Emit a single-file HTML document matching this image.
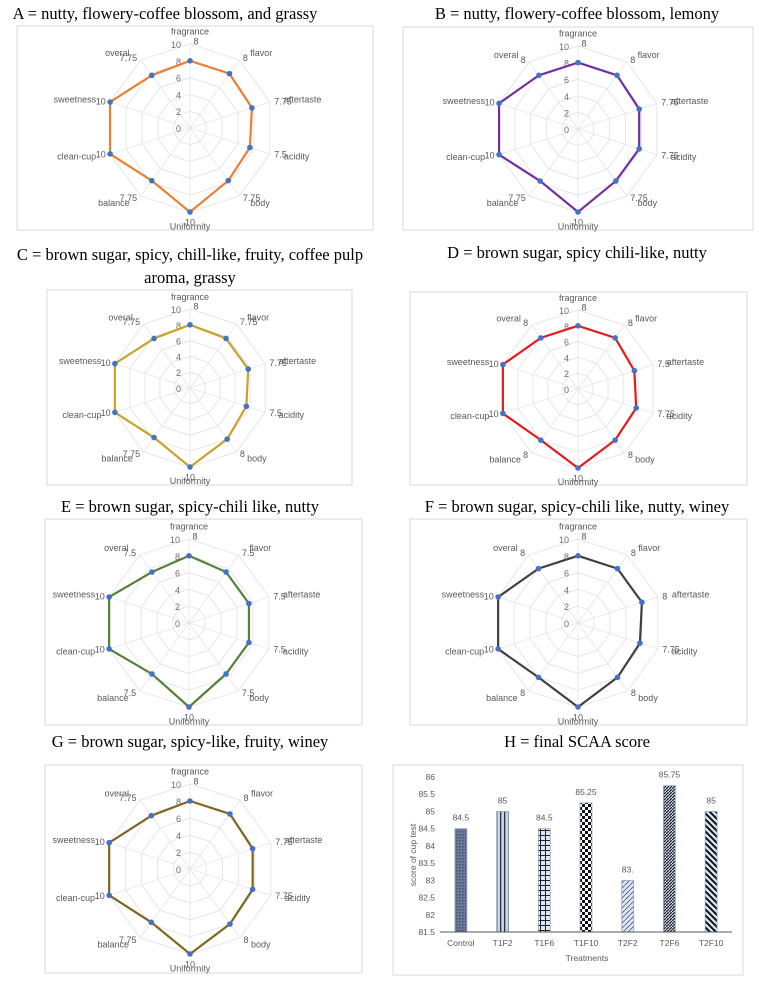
<!DOCTYPE html>
<html><head><meta charset="utf-8">
<style>
html,body{margin:0;padding:0;background:#fff;}
body{width:759px;height:984px;position:relative;overflow:hidden;font-family:"Liberation Serif",serif;}
.t{position:absolute;font-size:16.5px;line-height:20px;color:#000;white-space:nowrap;text-align:center;}
svg{position:absolute;left:0;top:0;}
</style></head>
<body>
<div class="t" style="left:0;width:330px;top:4px;">A = nutty, flowery-coffee blossom, and grassy</div>
<div class="t" style="left:395px;width:364px;top:4px;">B = nutty, flowery-coffee blossom, lemony</div>
<div class="t" style="left:0;width:380px;top:243px;line-height:23px;">C = brown sugar, spicy, chill-like, fruity, coffee pulp<br>aroma, grassy</div>
<div class="t" style="left:395px;width:364px;top:243px;">D = brown sugar, spicy chili-like, nutty</div>
<div class="t" style="left:0;width:380px;top:497px;">E = brown sugar, spicy-chili like, nutty</div>
<div class="t" style="left:395px;width:364px;top:497px;">F = brown sugar, spicy-chili like, nutty, winey</div>
<div class="t" style="left:0;width:380px;top:732px;">G = brown sugar, spicy-like, fruity, winey</div>
<div class="t" style="left:395px;width:364px;top:732px;">H = final SCAA score</div>
<svg id="s" width="759" height="984">
<defs>
<pattern id="p0" width="3" height="3" patternUnits="userSpaceOnUse"><rect width="3" height="3" fill="#6d7a96"/><rect width="1.5" height="1.5" fill="#4a5570"/></pattern>
<pattern id="p1" width="4" height="4" patternUnits="userSpaceOnUse"><rect width="4" height="4" fill="#c8d4ea"/><rect width="1.3" height="4" fill="#333"/></pattern>
<pattern id="p2" width="5" height="5" patternUnits="userSpaceOnUse"><rect width="5" height="5" fill="#dde6f5"/><rect width="1" height="5" fill="#222"/><rect width="5" height="1" fill="#222"/></pattern>
<pattern id="p3" width="6" height="6" patternUnits="userSpaceOnUse"><rect width="6" height="6" fill="#fff"/><rect width="3" height="3" fill="#111"/><rect x="3" y="3" width="3" height="3" fill="#111"/></pattern>
<pattern id="p4" width="5" height="5" patternUnits="userSpaceOnUse"><rect width="5" height="5" fill="#dce6f6"/><path d="M0 5 L5 0" stroke="#556" stroke-width="0.8"/></pattern>
<pattern id="p5" width="3" height="3" patternUnits="userSpaceOnUse"><rect width="3" height="3" fill="#c8d2e8"/><path d="M0 3 L3 0" stroke="#222" stroke-width="1.2"/></pattern>
<pattern id="p6" width="6" height="6" patternUnits="userSpaceOnUse"><rect width="6" height="6" fill="#dde6f5"/><path d="M0 0 L6 6 M-3 3 L3 9 M3 -3 L9 3" stroke="#111" stroke-width="2"/></pattern>
</defs>
</svg>
<script>
const attrs = ["fragrance","flavor","aftertaste","acidity","body","Uniformity","balance","clean-cup","sweetness","overal"];
const valsA = [8,8,7.75,7.5,7.75,10,7.75,10,10,7.75];
const valsB = [8,8,7.75,7.75,7.75,10,7.75,10,10,8];
const valsC = [8,7.75,7.75,7.5,8,10,7.75,10,10,7.75];
const valsD = [8,8,7.5,7.75,8,10,8,10,10,8];
const valsE = [8,7.5,7.5,7.5,7.5,10,7.5,10,10,7.5];
const valsF = [8,8,8,7.75,8,10,8,10,10,8];
const valsG = [8,8,7.75,7.75,8,10,7.75,10,10,7.75];
const ringTicks = [0,2,4,6,8,10];

const barCats = ["Control","T1F2","T1F6","T1F10","T2F2","T2F6","T2F10"];
const barVals = [84.5,85,84.5,85.25,83,85.75,85];
const barLabels = ["84.5","85","84.5","85.25","83.","85.75","85"];
const yTicks = [81.5,82,82.5,83,83.5,84,84.5,85,85.5,86];

const svg = document.getElementById('s');
const NS = "http://www.w3.org/2000/svg";
function mk(tag, a, parent){const e=document.createElementNS(NS,tag);for(const k in a)e.setAttribute(k,a[k]);(parent||svg).appendChild(e);return e;}
function txt(x,y,s,size,anchor,fill,parent){const e=mk('text',{x:x,y:y,'font-size':size,'text-anchor':anchor,fill:fill,'font-family':'Liberation Sans, sans-serif'},parent);e.textContent=s;return e;}

function radar(id, box, cx, cy, R, vals, color){
  const g = mk('g',{});
  
  
  const fr = mk('rect',{x:box[0],y:box[1],width:box[2]-box[0],height:box[3]-box[1],fill:'#fff',stroke:'#d9d9d9','stroke-width':1},g);
  
  
  const n = attrs.length;
  const pt=(i,v)=>{const a=-Math.PI/2+i*2*Math.PI/n;return [cx+Math.cos(a)*R*v/10, cy+Math.sin(a)*R*v/10];};
  ringTicks.forEach(t=>{ if(t===0) return;
    const p=[];for(let i=0;i<n;i++)p.push(pt(i,t).join(','));
    mk('polygon',{points:p.join(' '),fill:'none',stroke:'#e0e0e0','stroke-width':0.8},g);
  });
  for(let i=0;i<n;i++){const p=pt(i,10);mk('line',{x1:cx,y1:cy,x2:p[0],y2:p[1],stroke:'#e6e6e6','stroke-width':0.8},g);}
  ringTicks.forEach(t=>{const tl=txt(cx-9,cy-R*t/10+4,String(t),9,'end','#6b6b6b',g);
    
    });
  const pts=vals.map((v,i)=>pt(i,v).join(','));
  const ln=mk('polygon',{points:pts.join(' '),fill:'none',stroke:color,'stroke-width':2.2},g);
  
  
  vals.forEach((v,i)=>{const p=pt(i,v);const c=mk('circle',{cx:p[0],cy:p[1],r:2.8,fill:'#4472c4'},g);
    
    });
  for(let i=0;i<n;i++){
    const a=-Math.PI/2+i*2*Math.PI/n;const cs=Math.cos(a),sn=Math.sin(a);
    const lx=cx+cs*R*1.1, ly=cy+sn*R*1.1+3;
    const anc=Math.abs(cs)<0.2?'middle':(cs>0?'start':'end');
    const cl=txt(lx+(anc==='start'?6:anc==='end'?-6:0),ly+(i===0?-4:i===5?6:0),attrs[i],9,anc,'#595959',g);
    
    
    const vx=cx+cs*R*1.03, vy=cy+sn*R*1.03+3;
    const vl=txt(vx+(i===0?6:i===5?0:(cs>0?2:-2)),vy+(i===0?0:i===5?8:0),String(vals[i]),9,anc==='middle'?'middle':(cs>0?'start':'end'),'#595959',g);
    
    
  }
}
radar('a',[17,26,373,230],190,128,84,valsA,'#ed7d31');
radar('b',[403,27,753,230],578,129,83,valsB,'#7030a0');
radar('c',[47,290,352,485],190,388,79,valsC,'#c9a227');
radar('d',[410,292,747,485],578,389,79,valsD,'#e41a1c');
radar('e',[45,519,362,725],189,623,84,valsE,'#548235');
radar('f',[410,519,747,725],578,623,84,valsF,'#404040');
radar('g',[45,765,362,973],190,869,85,valsG,'#7f6520');

// bar chart H
const hg = mk('g',{});


const hf=mk('rect',{x:393,y:765,width:350,height:210,fill:'#fff',stroke:'#d9d9d9','stroke-width':1},hg);


const x0=440,x1=732,yTop=777,yBot=932,ymin=81.5,ymax=86;
const yS=v=>yBot-(v-ymin)/(ymax-ymin)*(yBot-yTop);
const step=(x1-x0)/barCats.length;
const xS=i=>x0+step*(i+0.5);
yTicks.forEach(t=>{const e=txt(435,yS(t)+3,String(t),8.5,'end','#595959',hg);
  
  });
barVals.forEach((v,i)=>{
  const b=mk('rect',{x:xS(i)-6,y:yS(v),width:12,height:yBot-yS(v),fill:'url(#p'+i+')',stroke:'#8fa8d8','stroke-width':0.8},hg);
  
  
  const l=txt(xS(i),yS(v)-8,barLabels[i],8.5,'middle','#595959',hg);
  
  
  const c=txt(xS(i),946,barCats[i],8.5,'middle','#595959',hg);
  
  
});
const ax=mk('line',{x1:x0,y1:yBot,x2:x1,y2:yBot,stroke:'#595959','stroke-width':1},hg);


const xt=txt(587,961,'Treatments',8.5,'middle','#595959',hg);


const yt=txt(0,0,'score of cup test',8.5,'middle','#595959',hg);
yt.setAttribute('transform','translate(416,855) rotate(-90)');


</script>
</body></html>
